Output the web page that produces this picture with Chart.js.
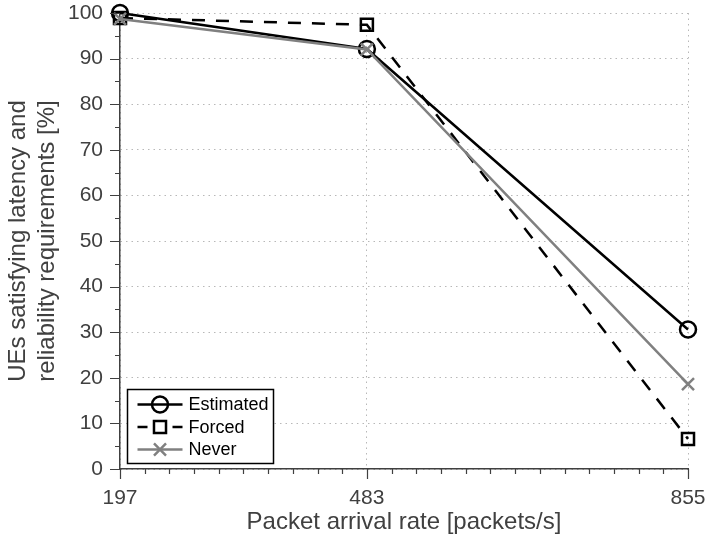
<!DOCTYPE html>
<html>
<head>
<meta charset="utf-8">
<script src="https://cdn.jsdelivr.net/npm/chart.js@4.4.1/dist/chart.umd.min.js"></script>
<style>
  html, body { margin: 0; padding: 0; background: #fff; }
  #wrap { width: 708px; height: 537px; }
</style>
</head>
<body>
<div id="wrap"><canvas id="chart" width="708" height="537"></canvas></div>
<script>
const arrivalRates = [197, 483, 855];
const estimated = [100, 92.1, 30.6];
const forced = [98.9, 97.4, 6.6];
const never = [98.7, 92.0, 18.6];
const yTicks = [0, 10, 20, 30, 40, 50, 60, 70, 80, 90, 100];

const FONT = '"Liberation Sans", Arial, Helvetica, sans-serif';
const INK = '#404040';

function pts(ys) {
    return arrivalRates.map((x, i) => ({ x: x, y: ys[i] }));
}

// major + minor tick marks outside the axes, plus the boxed legend
const axisDecor = {
    id: 'axisDecor',
    afterDraw(chart) {
        const ctx = chart.ctx;
        const xs = chart.scales.x, ys = chart.scales.y;
        const area = chart.chartArea;
        ctx.save();
        ctx.strokeStyle = INK;
        ctx.lineWidth = 1.2;
        ctx.beginPath();
        const xmin = xs.min, xmax = xs.max;
        const nMinor = 23;
        for (let i = 0; i <= nMinor; i++) {
            const px = Math.round(xs.getPixelForValue(xmin + (xmax - xmin) * i / nMinor)) + 0.5;
            ctx.moveTo(px, area.bottom);
            ctx.lineTo(px, area.bottom + 5);
        }
        arrivalRates.forEach(v => {
            const px = Math.round(xs.getPixelForValue(v)) + 0.5;
            ctx.moveTo(px, area.bottom);
            ctx.lineTo(px, area.bottom + 10);
        });
        for (let v = 0; v <= 100; v += 5) {
            const py = Math.round(ys.getPixelForValue(v)) + 0.5;
            ctx.moveTo(area.left, py);
            ctx.lineTo(area.left - (v % 10 === 0 ? 10 : 5), py);
        }
        ctx.stroke();

        // legend box
        const bx = 127.5, by = 389.5, bw = 146, bh = 74;
        ctx.fillStyle = '#fff';
        ctx.fillRect(bx, by, bw, bh);
        ctx.strokeStyle = '#000';
        ctx.lineWidth = 1.5;
        ctx.strokeRect(bx, by, bw, bh);
        ctx.font = '18px ' + FONT;
        ctx.textBaseline = 'middle';
        chart.data.datasets.forEach((d, i) => {
            const y = by + 15 + i * 22.5;
            const x0 = bx + 10, x1 = bx + 55, xm = bx + 32.5;
            ctx.strokeStyle = d.borderColor;
            ctx.lineWidth = d.borderWidth;
            ctx.setLineDash(d.legendDash || []);
            ctx.beginPath();
            ctx.moveTo(x0, y);
            ctx.lineTo(x1, y);
            ctx.stroke();
            ctx.setLineDash([]);
            ctx.fillStyle = 'rgba(0,0,0,0)';
            ctx.strokeStyle = d.pointBorderColor;
            ctx.lineWidth = d.pointBorderWidth;
            Chart.helpers.drawPoint(ctx, {
                pointStyle: d.pointStyle,
                radius: d.pointRadius,
                rotation: 0,
                borderWidth: d.pointBorderWidth
            }, xm, y);
            ctx.fillStyle = '#000';
            ctx.fillText(d.label, bx + 61, y + 1);
        });
        ctx.restore();
    }
};

new Chart(document.getElementById('chart'), {
    type: 'scatter',
    data: {
        datasets: [
            {
                label: 'Estimated',
                data: pts(estimated),
                showLine: true,
                borderColor: '#000',
                pointBorderColor: '#000',
                backgroundColor: 'rgba(0,0,0,0)',
                borderWidth: 2.5,
                pointStyle: 'circle',
                pointRadius: 8,
                pointBorderWidth: 2.5,
                order: 2
            },
            {
                label: 'Forced',
                data: pts(forced),
                showLine: true,
                borderColor: '#000',
                pointBorderColor: '#000',
                backgroundColor: 'rgba(0,0,0,0)',
                borderWidth: 2.5,
                borderDash: [13, 11],
                legendDash: [10, 25],
                pointStyle: 'rect',
                pointRadius: 8.5,
                pointBorderWidth: 2.5,
                order: 1
            },
            {
                label: 'Never',
                data: pts(never),
                showLine: true,
                borderColor: '#808080',
                pointBorderColor: '#808080',
                backgroundColor: 'rgba(0,0,0,0)',
                borderWidth: 2.5,
                pointStyle: 'crossRot',
                pointRadius: 8.5,
                pointBorderWidth: 2.5,
                order: 0
            }
        ]
    },
    options: {
        responsive: false,
        animation: false,
        clip: false,
        layout: { padding: { top: 13, right: 20, left: 0, bottom: 0 } },
        plugins: {
            legend: { display: false },
            tooltip: { enabled: false }
        },
        scales: {
            x: {
                type: 'linear',
                min: arrivalRates[0],
                max: arrivalRates[arrivalRates.length - 1],
                afterBuildTicks: s => { s.ticks = arrivalRates.map(v => ({ value: v })); },
                afterFit: s => { s.height = 68; s.paddingLeft = 0; s.paddingRight = 0; },
                grid: { color: '#b8b8b8', drawTicks: false, lineWidth: 1 },
                border: { color: INK, width: 1.5, dash: [1.5, 4] },
                ticks: {
                    color: INK,
                    font: { family: FONT, size: 21 },
                    padding: 17,
                    maxRotation: 0,
                    autoSkip: false,
                    callback: v => String(v)
                },
                title: {
                    display: true,
                    text: 'Packet arrival rate [packets/s]',
                    color: INK,
                    font: { family: FONT, size: 24 },
                    padding: { top: 0, bottom: 0 }
                }
            },
            y: {
                min: 0,
                max: 100,
                afterBuildTicks: s => { s.ticks = yTicks.map(v => ({ value: v })); },
                afterFit: s => { s.width = 120; s.paddingTop = 0; s.paddingBottom = 0; },
                grid: { color: '#b8b8b8', drawTicks: false, lineWidth: 1 },
                border: { color: INK, width: 1.5, dash: [1.5, 4] },
                ticks: {
                    color: INK,
                    font: { family: FONT, size: 21 },
                    padding: 17
                },
                title: {
                    display: true,
                    text: ['UEs satisfying latency and', 'reliability requirements [%]'],
                    color: INK,
                    font: { family: FONT, size: 24, lineHeight: 1.2 },
                    padding: { top: 4, bottom: 0 }
                }
            }
        }
    },
    plugins: [axisDecor]
});
</script>
</body>
</html>
